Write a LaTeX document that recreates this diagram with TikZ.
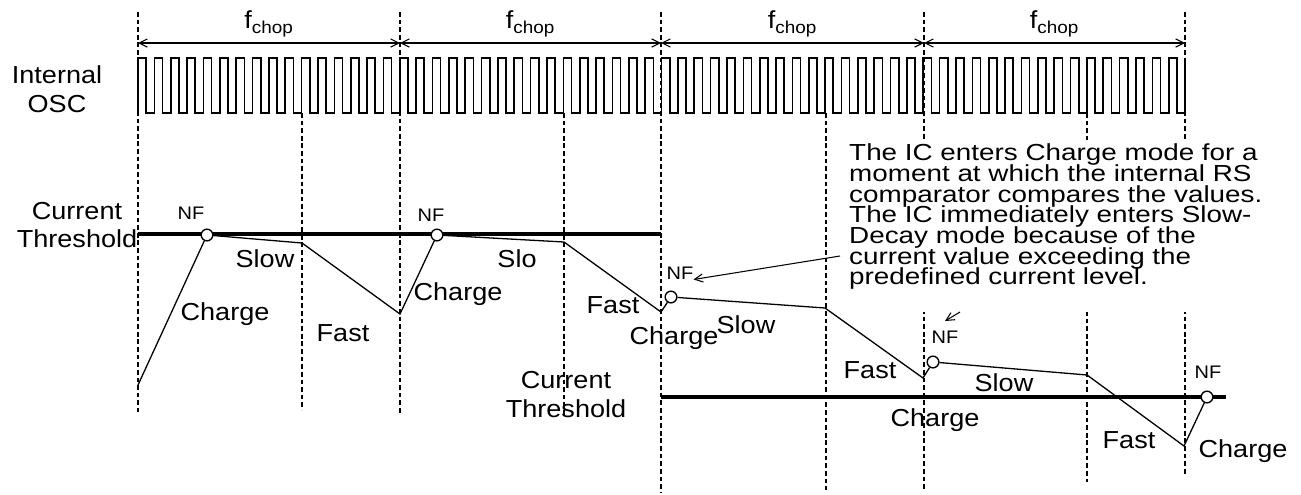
\documentclass[tikz,border=0pt]{standalone}
\usepackage{fontspec}
\setmainfont[FakeStretch=1.1]{Liberation Sans}
\newfontfamily\notefont[FakeStretch=1.2]{Liberation Sans}
\newcommand\notesize{\notefont\fontsize{19.8}{17.7}\selectfont\lineskiplimit=-50pt\relax}
\usetikzlibrary{arrows.meta}

\begin{document}
\begin{tikzpicture}[x=0.03cm,y=-0.03cm,
  font=\fontsize{21}{24.7}\selectfont,
  every node/.style={inner sep=0pt},
  grid/.style={dash pattern=on 4pt off 2.5pt,line width=1pt},
  wave/.style={line width=1.1pt},
  level/.style={line width=2.8pt},
  nfdot/.style={shape=circle,draw,fill=white,line width=1.2pt,minimum size=0.35cm},
  nftext/.style={font=\fontsize{15.5}{16}\selectfont},
  dim/.style={{Straight Barb[length=7pt,width=7pt]}-{Straight Barb[length=7pt,width=7pt]},line width=0.9pt},
  pointer/.style={-{Straight Barb[length=7pt,width=7pt]},line width=0.9pt}]
\useasboundingbox (0,0) rectangle (1301,494);

% dashed grid: chopping periods and fixed off time
\foreach \x/\yend in {138/412,400/415,661/493,924/490,1185/475}
  \draw[grid] (\x,12) -- (\x,\yend);
\foreach \x/\yend in {302/410,564/415,826/490,1087/482}
  \draw[grid] (\x,113) -- (\x,\yend);

% chopping period arrows
\foreach \x [count=\n from 0] in {138,400,661,924,1185}
  \coordinate (t\n) at (\x,43);
\foreach \a/\b in {0/1,1/2,2/3,3/4}
  \draw[dim] (t\a) -- node[above=5pt] (chop\a) {f\textsubscript{chop}} (t\b);

% internal oscillator
\node[align=center] (osc) at (57,89) {Internal\\OSC};
\draw[line width=1.4pt] (138,113)
  \foreach \i in {1,...,64} { -- ++(0,-55) -- ++(8.18,0) -- ++(0,55) -- ++(8.18,0) }
  (1185,58) -- (1185,113);

% note box
\fill[white] (840,140) rectangle (1272,312);
\node[anchor=north west,align=left,font=\notesize] (note) at (849,143.5)
  {The IC enters Charge mode for a\\moment at which the internal RS\\comparator compares the values.\\The IC immediately enters Slow-\\Decay mode because of the\\current value exceeding the\\predefined current level.};

% current thresholds
\draw[level] (138,234) -- (661,234);
\draw[level] (661,397) -- (1226,397);
\node[align=center] (thr1) at (77,225) {Current\\Threshold};
\node[align=center] (thr2) at (566,394.5) {Current\\Threshold};

% coil current
\coordinate (q0) at (138,385);
\coordinate (s1) at (302,243);
\coordinate (f1) at (400,314);
\coordinate (s2) at (564,242);
\coordinate (f2) at (661,312);
\coordinate (s3) at (825,308);
\coordinate (f3) at (923,378);
\coordinate (s4) at (1087,375);
\coordinate (f4) at (1184,446);
\node[nfdot] (nf1) at (207,235) {};
\node[nfdot] (nf2) at (437,235) {};
\node[nfdot] (nf3) at (671,297) {};
\node[nfdot] (nf4) at (933,362) {};
\node[nfdot] (nf5) at (1207,397) {};
\draw[wave] (q0) -- (nf1) -- (s1) -- (f1) -- (nf2) -- (s2) -- (f2) -- (nf3)
  -- (s3) -- (f3) -- (nf4) -- (s4) -- (f4) -- (nf5);

\node[nftext] (nfl1) at (191,213.5) {NF};
\node[nftext] (nfl2) at (431,215) {NF};
\node[nftext] (nfl3) at (680,273) {NF};
\node[nftext] (nfl4) at (945,337) {NF};
\node[nftext] (nfl5) at (1208,372) {NF};

% mode labels
\node (slow1) at (265,259) {Slow};
\node (charge1) at (225,314) {Charge};
\node (fast1) at (343,333.5) {Fast};
\node (charge2) at (458,294.5) {Charge};
\node (slow2) at (517,258.5) {Slo};
\node (fast2) at (613,305) {Fast};
\node (charge3) at (674,338) {Charge};
\node (slow3) at (746,325) {Slow};
\node (fast3) at (870,370) {Fast};
\node (charge4) at (935,420) {Charge};
\node (slow4) at (1004,383) {Slow};
\node (fast4) at (1129,440) {Fast};
\node (charge5) at (1243,451) {Charge};

% pointers from the note
\coordinate (fromA) at (840,256);
\draw[pointer] (fromA) -- (nfl3.south east);
\coordinate (fromB) at (960,312);
\coordinate (toB) at (945,321);
\draw[pointer] (fromB) -- (toB);
\end{tikzpicture}
\end{document}
